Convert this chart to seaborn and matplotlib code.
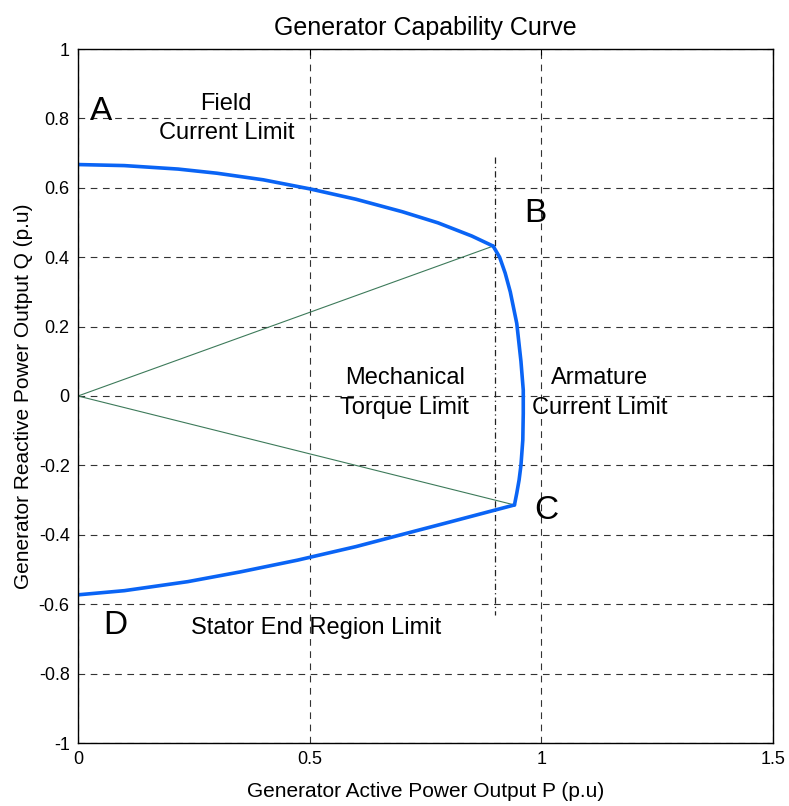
import matplotlib
matplotlib.use("Agg")
import matplotlib.pyplot as plt
import seaborn as sns
import pandas as pd

# ---- data ----
field_p = [0.0, 0.1, 0.216, 0.3, 0.4, 0.5, 0.6, 0.7, 0.777, 0.85, 0.896]
field_q = [0.667, 0.664, 0.654, 0.642, 0.623, 0.597, 0.567, 0.531, 0.499, 0.461, 0.432]

arm_p = [0.896, 0.91, 0.922, 0.933, 0.947, 0.956, 0.961, 0.961, 0.960, 0.956, 0.952, 0.947, 0.942]
arm_q = [0.432, 0.40, 0.354, 0.30, 0.209, 0.10, 0.017, -0.05, -0.127, -0.20, -0.242, -0.28, -0.314]

stator_p = [0.942, 0.905, 0.8, 0.711, 0.6, 0.474, 0.35, 0.237, 0.1, 0.0]
stator_q = [-0.314, -0.327, -0.364, -0.395, -0.434, -0.473, -0.507, -0.535, -0.561, -0.573]

mech_p = [0.899, 0.899]
mech_q = [0.69, -0.63]

ray_b_p = [0.0, 0.896]
ray_b_q = [0.0, 0.432]
ray_c_p = [0.0, 0.942]
ray_c_q = [0.0, -0.314]

xticks = [0, 0.5, 1, 1.5]
xtick_labels = ["0", "0.5", "1", "1.5"]
yticks = [-1, -0.8, -0.6, -0.4, -0.2, 0, 0.2, 0.4, 0.6, 0.8, 1]
ytick_labels = ["-1", "-0.8", "-0.6", "-0.4", "-0.2", "0", "0.2", "0.4", "0.6", "0.8", "1"]

point_labels = ["A", "B", "C", "D"]
point_pos = [(0.05, 0.82), (0.987, 0.525), (1.01, -0.33), (0.08, -0.66)]

region_labels = ["Field\nCurrent Limit", "Mechanical\nTorque Limit",
                 "Armature\nCurrent Limit", "Stator End Region Limit"]
region_pos = [(0.32, 0.80), (0.705, 0.008), (1.125, 0.008), (0.515, -0.67)]

# ---- plotting ----
sns.set_style("white")
plt.rcParams["font.family"] = ["Liberation Sans", "DejaVu Sans"]
plt.rcParams["text.color"] = "black"
plt.rcParams["axes.labelcolor"] = "black"

fig = plt.figure(figsize=(7.89, 8.06), dpi=100)
ax = fig.add_axes([78 / 789, 63 / 806, (773 - 78) / 789, (743 - 49) / 806])

blue = "#0a64f5"
green = "#3d7a5a"

def draw(p, q, **kw):
    df = pd.DataFrame({"P": p, "Q": q})
    sns.lineplot(data=df, x="P", y="Q", sort=False, estimator=None, ax=ax, **kw)

draw(ray_b_p, ray_b_q, color=green, linewidth=0.8)
draw(ray_c_p, ray_c_q, color=green, linewidth=0.8)
draw(mech_p, mech_q, color="#222222", linewidth=0.9, linestyle=(0, (5, 2.5, 1, 2.5)))
draw(field_p, field_q, color=blue, linewidth=2.6, solid_joinstyle="round")
draw(arm_p, arm_q, color=blue, linewidth=2.6, solid_joinstyle="round")
draw(stator_p, stator_q, color=blue, linewidth=2.6, solid_joinstyle="round")

ax.set_xlim(0, 1.5)
ax.set_ylim(-1, 1)
ax.set_xticks(xticks)
ax.set_xticklabels(xtick_labels)
ax.set_yticks(yticks)
ax.set_yticklabels(ytick_labels)
ax.tick_params(direction="in", length=4, labelsize=13, width=0.8, pad=6,
               top=True, right=True, colors="black")
ax.grid(True, color="#333333", linestyle=(0, (6, 5)), linewidth=0.8)
for s in ax.spines.values():
    s.set_color("black")
    s.set_linewidth(1.0)

ax.set_title("Generator Capability Curve", fontsize=18, pad=10, color="black")
ax.set_xlabel("Generator Active Power Output P (p.u)", fontsize=15, labelpad=10)
ax.set_ylabel("Generator Reactive Power Output Q (p.u)", fontsize=15, labelpad=4)

for lab, (x, y) in zip(point_labels, point_pos):
    ax.text(x, y, lab, fontsize=24, ha="center", va="center", color="black")
for lab, (x, y) in zip(region_labels, region_pos):
    ax.text(x, y, lab, fontsize=17, ha="center", va="center", linespacing=1.45,
            color="black")

fig.savefig("out.png", dpi=100)
